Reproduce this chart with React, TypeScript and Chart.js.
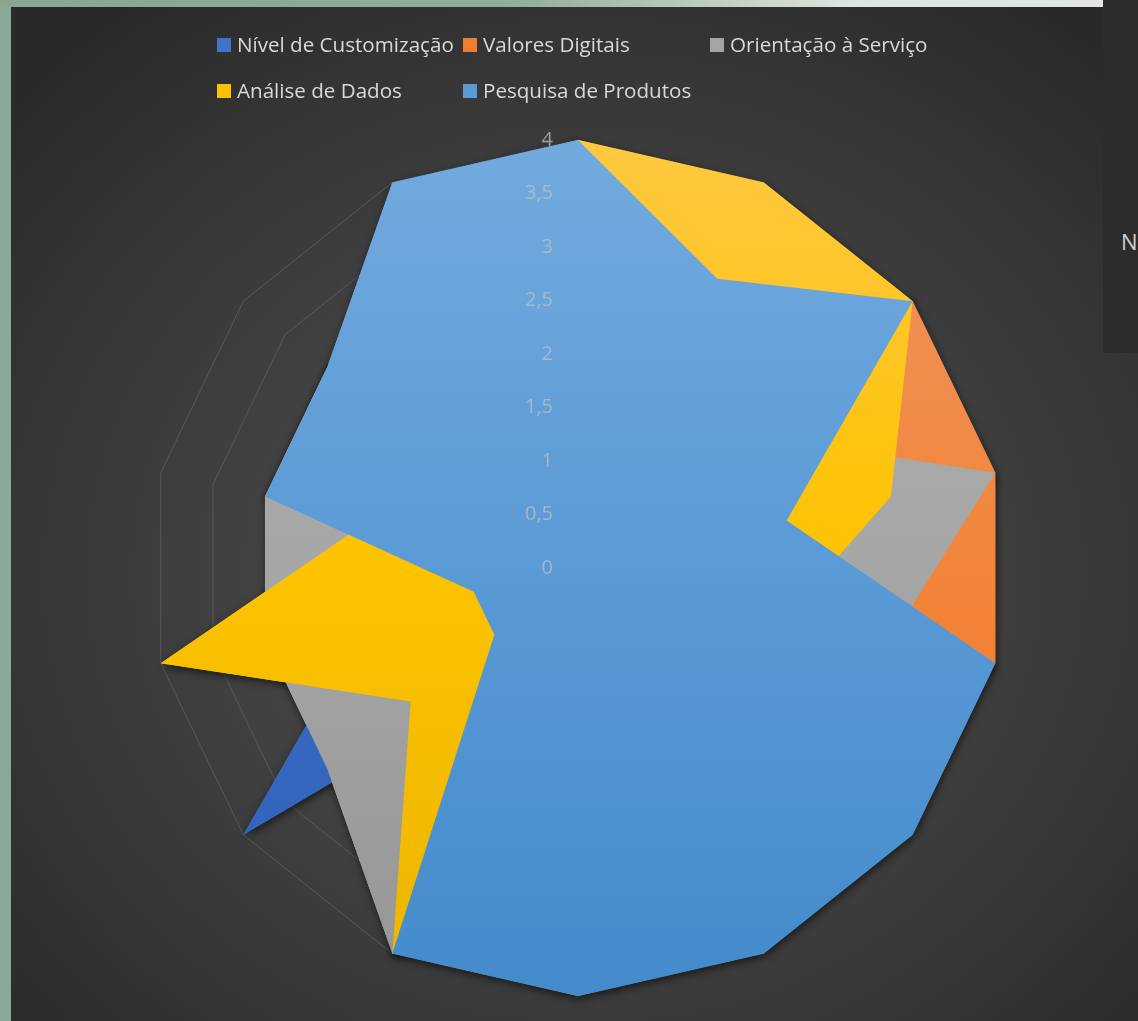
import React, { useEffect, useRef } from 'react';
import { Chart, registerables } from 'chart.js';

Chart.register(...registerables);

// ---- data ----
const categories = ['1', '2', '3', '4', '5', '6', '7', '8', '9', '10', '11', '12', '13', '14'];
const seriesNames = [
  'Nível de Customização',
  'Valores Digitais',
  'Orientação à Serviço',
  'Análise de Dados',
  'Pesquisa de Produtos',
];
const nivelCustomizacao = [3, 2, 3, 3, 2, 3, 2, 3, 1, 4, 2, 2, 3, 3];
const valoresDigitais = [3, 3, 4, 4, 4, 3, 2, 3, 2, 1, 2, 2, 3, 3];
const orientacaoServico = [3, 2, 2, 4, 3, 3, 2, 3, 4, 3, 3, 3, 3, 3];
const analiseDados = [4, 4, 4, 3, 2, 3, 3, 3, 4, 2, 4, 2, 3, 3];
const pesquisaProdutos = [4, 3, 4, 2, 4, 4, 4, 4, 4, 1, 1, 3, 3, 4];
const tickValues = [0, 0.5, 1, 1.5, 2, 2.5, 3, 3.5, 4];
const tickLabels = ['0', '0,5', '1', '1,5', '2', '2,5', '3', '3,5', '4'];

// ---- styles ----
const seriesData = [nivelCustomizacao, valoresDigitais, orientacaoServico, analiseDados, pesquisaProdutos];
const solidColors = ['#4472C4', '#ED7D31', '#A5A5A5', '#FFC000', '#5B9BD5'];
const gradientStops: string[][] = [
  ['#4a7bd0', '#3a6cc6', '#2f61b8'],
  ['#ef9560', '#f2853a', '#f47420'],
  ['#b0b0b0', '#a6a6a6', '#969696'],
  ['#ffc840', '#fdc300', '#ebb500'],
  ['#72aade', '#5a9ad6', '#438bcb'],
];
const FONT = '"Open Sans", "Noto Sans", sans-serif';

// Shadow cast only onto the background: draw the series shapes once with a
// shadow before the real fills are painted over them.
const shadowPlugin = {
  id: 'seriesShadow',
  beforeDatasetsDraw(chart: any) {
    const c = chart.ctx;
    c.save();
    c.shadowColor = 'rgba(0,0,0,0.6)';
    c.shadowBlur = 9;
    c.shadowOffsetX = 1;
    c.shadowOffsetY = 3;
    chart.data.datasets.forEach((_ds: any, i: number) => {
      const meta = chart.getDatasetMeta(i);
      const pts = meta.data;
      if (!pts || !pts.length) return;
      c.beginPath();
      pts.forEach((p: any, j: number) => {
        if (j === 0) c.moveTo(p.x, p.y);
        else c.lineTo(p.x, p.y);
      });
      c.closePath();
      c.fillStyle = solidColors[i];
      c.fill();
    });
    c.restore();
  },
};

const tickPlugin = {
  id: 'excelTicks',
  afterDatasetsDraw(chart: any) {
    const scale = chart.scales.r;
    const c = chart.ctx;
    c.save();
    c.font = `20px ${FONT}`;
    c.fillStyle = 'rgba(191,191,191,0.75)';
    c.textAlign = 'right';
    c.textBaseline = 'middle';
    tickValues.forEach((v, i) => {
      const d = scale.getDistanceFromCenterForValue(v);
      c.fillText(tickLabels[i], scale.xCenter - 25, scale.yCenter - d);
    });
    c.restore();
  },
};

export default function App() {
  const canvasRef = useRef<HTMLCanvasElement | null>(null);

  useEffect(() => {
    if (!canvasRef.current) return;
    const makeBg = (idx: number) => (ctx: any) => {
      const chart = ctx.chart;
      const area = chart.chartArea;
      if (!area) return solidColors[idx];
      const g = chart.ctx.createLinearGradient(0, area.top, 0, area.bottom);
      const stops = gradientStops[idx];
      g.addColorStop(0, stops[0]);
      g.addColorStop(0.5, stops[1]);
      g.addColorStop(1, stops[2]);
      return g;
    };
    const chart = new Chart(canvasRef.current, {
      type: 'radar',
      data: {
        labels: categories,
        datasets: seriesNames.map((name, i) => ({
          label: name,
          data: seriesData[i],
          fill: true,
          backgroundColor: makeBg(i),
          borderColor: 'transparent',
          borderWidth: 0,
          pointRadius: 0,
          pointHoverRadius: 0,
          order: seriesNames.length - i,
        })),
      },
      options: {
        responsive: false,
        animation: false,
        events: [],
        layout: { padding: { left: 139, top: 133, right: 132, bottom: 25 } },
        plugins: {
          legend: { display: false },
          tooltip: { enabled: false },
          title: { display: false },
        },
        elements: { line: { tension: 0 } },
        scales: {
          r: {
            min: 0,
            max: 4,
            ticks: { display: false, stepSize: 0.5 },
            grid: { color: '#595959', lineWidth: 1 },
            angleLines: { display: false },
            pointLabels: { display: false },
          },
        },
      },
      plugins: [shadowPlugin, tickPlugin],
    } as any);
    return () => chart.destroy();
  }, []);

  const legendCols = [217, 463, 710];
  const legendRows = [38, 84];

  return (
    <div
      style={{
        position: 'fixed',
        left: 0,
        top: 0,
        width: 1138,
        height: 1021,
        overflow: 'hidden',
        background: 'linear-gradient(90deg, #88a692 0%, #8fae9c 45%, #dfe4e0 75%, #e3e6e4 100%)',
        fontFamily: FONT,
      }}
    >
      <div
        style={{
          position: 'absolute',
          left: 0,
          top: 7,
          width: 11,
          height: 1014,
          background: '#8aa997',
        }}
      />
      <div
        style={{
          position: 'absolute',
          left: 11,
          top: 7,
          width: 1127,
          height: 1014,
          background:
            'radial-gradient(ellipse 70% 70% at 51% 56%, #4c4c4c 0%, #454545 35%, #373737 70%, #292929 100%)',
        }}
      >
        <canvas
          ref={canvasRef}
          width={1127}
          height={1014}
          style={{ position: 'absolute', left: 0, top: 0, display: 'block' }}
        />
        {seriesNames.map((name, i) => {
          const col = legendCols[i % 3] - 11;
          const row = legendRows[Math.floor(i / 3)] - 7;
          return (
            <React.Fragment key={name}>
              <div
                style={{
                  position: 'absolute',
                  left: col,
                  top: row,
                  width: 14,
                  height: 14,
                  background: solidColors[i],
                }}
              />
              <div
                style={{
                  position: 'absolute',
                  left: col + 20,
                  top: row - 4,
                  fontSize: 20.6,
                  lineHeight: '21px',
                  color: '#d9d9d9',
                  whiteSpace: 'nowrap',
                }}
              >
                {name}
              </div>
            </React.Fragment>
          );
        })}
      </div>
      <div
        style={{
          position: 'absolute',
          left: 1103,
          top: 0,
          width: 35,
          height: 353,
          background: '#2c2c2c',
        }}
      >
        <div
          style={{
            position: 'absolute',
            left: 18,
            top: 230,
            fontSize: 22,
            lineHeight: '22px',
            color: '#d0d0d0',
          }}
        >
          N
        </div>
      </div>
    </div>
  );
}
